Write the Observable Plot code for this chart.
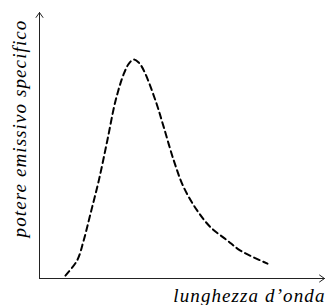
<!DOCTYPE html>
<html><head><meta charset="utf-8">
<script src="https://cdn.jsdelivr.net/npm/d3@7"></script>
<script src="https://cdn.jsdelivr.net/npm/@observablehq/plot@0.6"></script>
<style>body{margin:0;background:#fff}</style>
</head><body><div id="c"></div>
<script>
const wavelength = [9.1, 13.2, 15.5, 17.9, 20.8, 23.8, 26.7, 29.6, 31.5, 33.1, 34.8, 36.6, 40.7, 43.6, 47.1, 50.6, 55.3, 60.0, 65.9, 70.5, 80.0];
const power =      [1.1, 6.8, 14.3, 24.4, 36.8, 51.9, 66.9, 77.0, 81.0, 82.3, 81.2, 78.2, 66.9, 56.9, 44.4, 34.3, 25.6, 19.3, 14.3, 10.5, 5.6];
const xLabel = "lunghezza d’onda";
const yLabel = "potere emissivo specifico";
const data = wavelength.map((x, i) => ({x, y: power[i]}));
const font = "'Liberation Serif', 'DejaVu Serif', serif";
const chart = Plot.plot({
  width: 326, height: 305,
  marginLeft: 39, marginRight: 2, marginTop: 12, marginBottom: 27,
  x: {domain: [0, 100], axis: null},
  y: {domain: [0, 100], axis: null},
  style: {fontFamily: font, background: "#fff", letterSpacing: "1.1px"},
  marks: [
    Plot.arrow([{x1: 0, y1: 0, x2: 100, y2: 0}], {x1: "x1", y1: "y1", x2: "x2", y2: "y2", stroke: "#222", strokeWidth: 1, headLength: 9, headAngle: 70}),
    Plot.arrow([{x1: 0, y1: 0, x2: 0, y2: 100}], {x1: "x1", y1: "y1", x2: "x2", y2: "y2", stroke: "#222", strokeWidth: 1, headLength: 9, headAngle: 70}),
    Plot.line(data, {x: "x", y: "y", curve: "catmull-rom", stroke: "#000", strokeWidth: 2, strokeDasharray: "6,4"}),
    Plot.text([yLabel], {frameAnchor: "left", textAnchor: "middle", lineAnchor: "bottom", rotate: -90, dx: -14, dy: -17, fontSize: 19, fontStyle: "italic", fill: "#000", fontFamily: font}),
    Plot.text([xLabel], {frameAnchor: "bottom-right", textAnchor: "end", lineAnchor: "bottom", dy: 23, dx: 1, fontSize: 19, fontStyle: "italic", fill: "#000", fontFamily: font})
  ]
});
document.getElementById("c").appendChild(chart);
</script></body></html>
